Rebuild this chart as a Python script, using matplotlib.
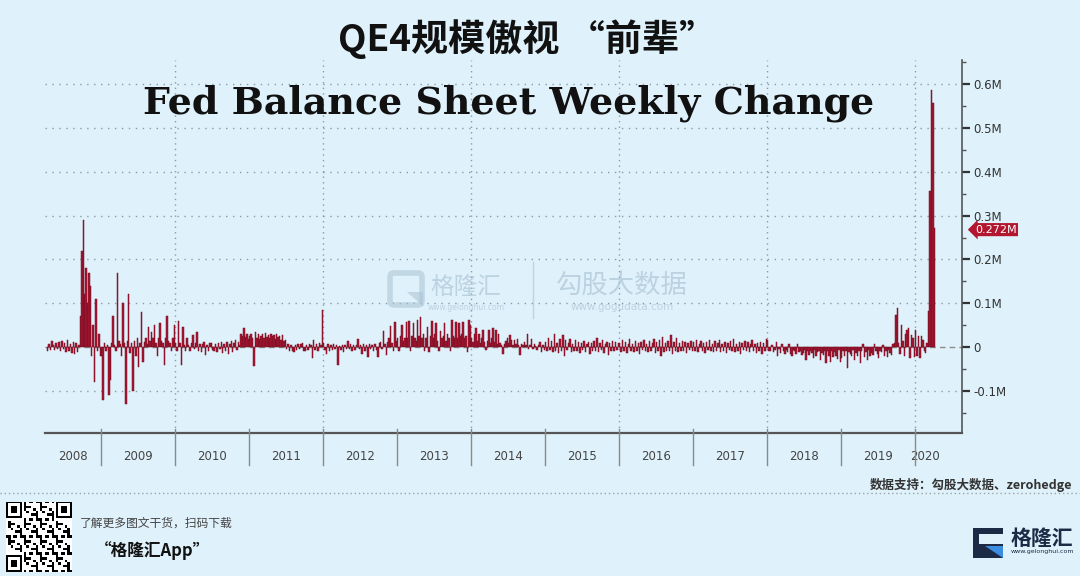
import numpy as np
import matplotlib
matplotlib.use('Agg')
import matplotlib.pyplot as plt
import matplotlib.transforms as mtrans
from matplotlib.patches import Rectangle, Polygon, FancyBboxPatch
from matplotlib.ticker import MultipleLocator, FuncFormatter

# ---------------- data (weekly change, in "M" axis units) ----------------
w2008 = [-0.008, 0.006, -0.006, 0.015, 0.004, -0.006, 0.01, -0.004, 0.012, -0.01, 0.014, -0.004,
         0.01, -0.012, 0.016, -0.01, 0.008, -0.014, 0.012, -0.016, 0.01, -0.012, 0.004,
         0.07, 0.22, 0.29, 0.12, 0.18, 0.10, 0.17, 0.14, -0.02, 0.05, -0.08, 0.11, -0.01, 0.03, -0.02]
w2009 = [-0.02, -0.12, 0.01, -0.01, 0.005, -0.11, -0.075, 0.01, 0.07, 0.005, -0.01, 0.17, 0.015,
         0.008, -0.02, 0.10, 0.01, -0.13, 0.015, 0.12, -0.013, 0.01, -0.10, 0.015, -0.02, 0.02,
         -0.045, 0.01, 0.08, -0.035, 0.012, 0.02, 0.008, 0.045, 0.015, 0.035, 0.02, 0.05, 0.01,
         -0.02, 0.02, 0.055, 0.015, 0.01, -0.04, 0.02, 0.07, 0.015, 0.01, -0.01, 0.02, 0.05]
w2010 = [0.01, -0.01, 0.06, 0.01, -0.04, 0.045, 0.005, -0.01, 0.02, 0.005, -0.008, 0.01, 0.027,
         -0.005, 0.01, 0.035, -0.01, 0.008, -0.012, 0.006, 0.012, -0.017, 0.004, -0.008, 0.01,
         0.01, -0.006, -0.01, 0.008, -0.012, 0.01, -0.005, 0.012, -0.014, 0.006, -0.01, 0.012,
         -0.016, 0.008, 0.014, -0.012, 0.01, 0.016, -0.006, 0.012, 0.005, 0.03, 0.026, 0.043,
         0.022, 0.03, 0.018]
w2011 = [0.025, 0.03, 0.02, -0.044, 0.035, 0.02, 0.03, 0.018, 0.025, 0.03, 0.02, 0.033, 0.022,
         0.028, 0.02, 0.03, 0.025, 0.027, 0.018, 0.03, 0.022, 0.026, 0.017, 0.027, 0.015, 0.016,
         -0.005, 0.006, -0.01, 0.004, -0.008, -0.012, 0.005, -0.006, 0.007, -0.004, 0.008, 0.01,
         -0.008, -0.01, 0.005, -0.006, 0.008, 0.004, -0.024, 0.016, -0.006, 0.006, -0.008, 0.01,
         0.004, 0.085]
w2012 = [0.01, -0.006, -0.016, 0.006, -0.008, 0.004, -0.006, 0.008, -0.005, 0.004, -0.041, 0.003,
         -0.006, 0.005, -0.012, 0.004, -0.005, 0.015, -0.004, 0.006, -0.008, 0.005, -0.006, 0.004,
         0.018, -0.004, 0.005, -0.016, 0.006, -0.008, 0.004, -0.022, 0.006, -0.005, 0.004, -0.008,
         0.008, -0.006, -0.022, 0.01, 0.012, -0.005, 0.037, 0.008, -0.018, 0.012, 0.02, 0.048,
         0.01, -0.008, 0.058, 0.015]
w2013 = [0.02, -0.01, 0.025, 0.05, 0.015, 0.02, 0.058, 0.02, 0.06, -0.008, 0.025, 0.054, 0.02,
         0.015, 0.062, 0.025, 0.068, 0.02, 0.03, -0.01, 0.02, 0.046, -0.012, 0.025, 0.06, 0.02,
         0.03, 0.054, 0.015, -0.008, 0.037, 0.02, 0.025, 0.054, 0.015, 0.03, 0.02, -0.01, 0.062,
         0.025, 0.02, 0.058, 0.02, 0.056, 0.025, 0.03, 0.058, 0.02, 0.025, -0.012, 0.062, 0.05]
w2014 = [0.02, 0.012, 0.03, 0.043, 0.015, 0.031, 0.01, 0.02, 0.039, 0.012, -0.006, 0.015, 0.04,
         0.01, 0.02, 0.043, 0.012, 0.039, 0.008, 0.031, 0.01, 0.005, -0.015, 0.008, 0.015, 0.021,
         0.01, 0.027, 0.016, 0.005, 0.016, 0.006, 0.018, 0.004, -0.018, 0.006, 0.004, 0.012, 0.005,
         0.029, -0.005, 0.004, 0.018, -0.004, 0.007, 0.003, -0.006, 0.005, 0.012, -0.011, 0.004,
         -0.006]
w2015 = [0.012, -0.01, 0.02, -0.006, 0.015, -0.012, 0.03, -0.008, 0.01, -0.014, 0.018, -0.01,
         0.027, -0.02, 0.016, -0.006, 0.01, 0.018, -0.012, 0.008, -0.01, 0.016, -0.008, 0.012,
         -0.014, 0.01, -0.006, 0.015, -0.012, 0.008, 0.012, -0.016, 0.01, -0.008, 0.014, -0.01,
         0.02, -0.012, 0.01, -0.006, 0.016, -0.014, 0.008, 0.012, -0.018, 0.01, -0.008, 0.015,
         -0.01, 0.012, -0.006, 0.01]
w2016 = [0.01, -0.012, 0.016, -0.008, 0.012, -0.014, 0.008, 0.018, -0.01, 0.006, -0.012, 0.014,
         -0.008, 0.01, -0.015, 0.012, -0.006, 0.016, -0.01, 0.008, -0.012, 0.014, -0.008, 0.01,
         0.018, -0.014, 0.012, -0.01, 0.016, -0.02, 0.024, -0.012, 0.01, -0.008, 0.014, -0.01,
         0.028, -0.016, 0.012, -0.008, 0.02, -0.012, 0.01, -0.01, 0.015, -0.008, 0.012, -0.014,
         0.01, -0.006, 0.014, -0.01]
w2017 = [0.012, -0.01, 0.016, -0.012, 0.008, 0.014, -0.01, 0.01, -0.014, 0.012, -0.006, 0.016,
         -0.01, 0.008, -0.012, 0.014, -0.008, 0.01, 0.016, -0.012, 0.008, -0.01, 0.012, -0.014,
         0.01, -0.006, 0.014, -0.01, 0.018, -0.012, 0.008, -0.008, 0.012, -0.016, 0.01, -0.006,
         0.014, -0.01, 0.012, -0.012, 0.008, 0.016, -0.01, 0.006, -0.014, 0.01, -0.008, 0.012,
         -0.016, 0.01, -0.008, 0.018]
w2018 = [0.016, -0.008, -0.01, 0.005, -0.012, -0.006, 0.012, -0.02, -0.004, -0.014, 0.006, -0.01,
         -0.016, -0.006, -0.012, 0.008, -0.015, -0.02, -0.006, -0.01, -0.016, 0.006, -0.012,
         -0.008, -0.018, -0.014, -0.006, -0.03, -0.01, -0.018, -0.008, -0.014, -0.024, -0.006,
         -0.02, -0.012, -0.008, -0.03, -0.014, -0.018, -0.01, -0.037, -0.008, -0.02, -0.034,
         -0.01, -0.022, -0.012, -0.02, -0.028, -0.006, -0.034]
w2019 = [-0.026, -0.01, -0.02, -0.008, -0.047, -0.012, -0.016, -0.02, -0.006, -0.03, -0.014,
         -0.02, -0.01, -0.037, -0.008, 0.008, -0.022, -0.012, -0.03, -0.006, -0.02, -0.014,
         -0.018, 0.006, -0.01, -0.016, -0.024, -0.008, -0.012, 0.004, -0.02, -0.01, -0.022,
         -0.006, -0.014, -0.018, 0.006, 0.01,
         0.073, 0.089, 0.01, -0.015, 0.05, 0.015, -0.02, 0.03, 0.04, 0.043, -0.026, 0.027, 0.02,
         -0.022]
w2020 = [0.04, -0.02, 0.025, -0.026, 0.025, 0.017, -0.01, -0.013, 0.01, 0.083, 0.356, 0.586,
         0.557, 0.272]

years = [2008, 2009, 2010, 2011, 2012, 2013, 2014, 2015, 2016, 2017, 2018, 2019, 2020]
weekly = [w2008, w2009, w2010, w2011, w2012, w2013, w2014, w2015, w2016, w2017, w2018, w2019, w2020]
year_labels = [str(y) for y in years]
ytick_vals = [-0.1, 0, 0.1, 0.2, 0.3, 0.4, 0.5, 0.6]
last_value = 0.272

title_cn = 'QE4规模傲视 “前辈”'
title_en = 'Fed Balance Sheet Weekly Change'
source_txt = '数据支持：勾股大数据、zerohedge'

# ---------------- style ----------------
BG = '#dff1fa'
BAR = '#a8142f'
BAR_EDGE = '#741024'
GRID = '#8b9ba5'
CJK = ['Noto Sans CJK SC', 'DejaVu Sans']

W, H = 1080, 576
fig = plt.figure(figsize=(10.8, 5.76), dpi=100, facecolor=BG)


def fx(px):
    return px / W


def fy(py):
    return 1 - py / H


ax = fig.add_axes([fx(45), fy(433), (962 - 45) / W, (433 - 60) / H])
ax.set_facecolor(BG)

xs, ys = [], []
for yr, vals in zip(years, weekly):
    offset = 52 - len(vals) if yr == years[0] else 0
    for i, v in enumerate(vals):
        xs.append(yr + (offset + i + 0.5) / 52.0)
        ys.append(v)

ax.bar(xs, ys, width=1 / 52.0, color=BAR, edgecolor=BAR_EDGE, linewidth=0.35, zorder=3)

ax.set_xlim(2008.243, 2020.635)
ax.set_ylim(-0.196, 0.655)

# gridlines
for v in ytick_vals:
    if v == 0:
        ax.axhline(0, color='#8c8c8c', lw=1.0, ls=(0, (4, 3)), zorder=2)
    else:
        ax.axhline(v, color=GRID, lw=1.0, ls=(0, (1, 4)), zorder=1)
for yr in years[2::2]:
    ax.axvline(yr, color=GRID, lw=1.0, ls=(0, (1, 3)), zorder=1)

for s in ['left', 'top']:
    ax.spines[s].set_visible(False)
ax.spines['right'].set_color('#555555')
ax.spines['right'].set_linewidth(1.2)
ax.spines['bottom'].set_color('#555555')
ax.spines['bottom'].set_linewidth(1.6)

ax.yaxis.tick_right()
ax.set_yticks(ytick_vals)
ax.yaxis.set_minor_locator(MultipleLocator(0.05))
ax.yaxis.set_major_formatter(FuncFormatter(lambda v, p: '0' if abs(v) < 1e-9 else f'{v:.1f}M'))
ax.tick_params(axis='y', which='major', direction='out', length=6, width=1.6,
               colors='#333333', labelsize=8.5, pad=2)
ax.tick_params(axis='y', which='minor', direction='out', length=3, width=1.0, colors='#555555')
ax.set_xticks([])

# year separators and labels
trans = mtrans.blended_transform_factory(ax.transData, ax.transAxes)
for yr in years[1:]:
    ax.plot([yr, yr], [0.012, -0.085], transform=trans, color='#8a8a8a', lw=1.0,
            clip_on=False, zorder=5)
xmin, xmax = ax.get_xlim()
for yr, lab in zip(years, year_labels):
    if yr == years[0]:
        cx = (xmin + yr + 1) / 2
    elif yr == years[-1]:
        cx = yr + 0.13
    else:
        cx = yr + 0.5
    ax.text(cx, -0.063, lab, transform=trans, ha='center', va='center', fontsize=8.5,
            color='#444444')

# last value tag
ax.text(1.014, last_value - 0.004, f'{last_value:.3f}M',
        transform=mtrans.blended_transform_factory(ax.transAxes, ax.transData),
        ha='left', va='center', color='white', fontsize=8, zorder=6, clip_on=False,
        bbox=dict(boxstyle='larrow,pad=0.14', fc='#b3172f', ec='none'))

# ---------------- overlay (pixel coordinates) ----------------
ov = fig.add_axes([0, 0, 1, 1])
ov.set_xlim(0, W)
ov.set_ylim(H, 0)
ov.axis('off')

t1 = ov.text(527, 39, title_cn, ha='center', va='center', fontsize=27, fontweight='bold',
             family=CJK, color='#111111')
t2 = ov.text(509, 103, title_en, ha='center', va='center', fontsize=30, fontweight='bold',
             family=['DejaVu Serif'], color='#111111')

# watermark
WM = '#a9c2d3'
ov.add_patch(FancyBboxPatch((391, 274), 30, 30, boxstyle='round,pad=1,rounding_size=4',
                            fc='none', ec=WM, lw=4, alpha=0.55, zorder=4))
ov.add_patch(Polygon([[407, 292], [423, 292], [423, 306]], closed=True, fc=WM, ec='none',
                     alpha=0.55, zorder=4))
ov.text(466, 287, '格隆汇', ha='center', va='center', fontsize=17, family=CJK, color=WM,
        alpha=0.65, zorder=4)
ov.text(466, 308, 'www.gelonghui.com', ha='center', va='center', fontsize=5.5, color=WM,
        alpha=0.65, zorder=4)
ov.plot([533, 533], [262, 318], color=WM, lw=1, alpha=0.6, zorder=4)
ov.text(622, 285, '勾股大数据', ha='center', va='center', fontsize=19, family=CJK, color=WM,
        alpha=0.65, zorder=4)
ov.text(622, 307, 'www.gogudata.com', ha='center', va='center', fontsize=7.5, color=WM,
        alpha=0.65, zorder=4)

# source
ov.text(1072, 485, source_txt, ha='right', va='center', fontsize=9, fontweight='bold',
        family=CJK, color='#333333')

# footer dotted line
ov.plot([0, W], [493, 493], color='#9aa4aa', lw=1.0, ls=(0, (1, 2)))

# QR code (decorative)
n = 29
qr = np.zeros((n, n))
for i in range(n):
    for j in range(n):
        qr[i, j] = 1 if ((i * i * 3 + j * 7 + i * j * 5 + j * j) % 7) < 3 else 0


def finder(r, c):
    qr[max(r - 1, 0):r + 8, max(c - 1, 0):c + 8] = 0
    qr[r:r + 7, c:c + 7] = 1
    qr[r + 1:r + 6, c + 1:c + 6] = 0
    qr[r + 2:r + 5, c + 2:c + 5] = 1


finder(0, 0)
finder(0, n - 7)
finder(n - 7, 0)
qax = fig.add_axes([fx(6), fy(572), 66 / W, 70 / H])
qax.imshow(qr, cmap='gray_r', interpolation='nearest', aspect='auto')
qax.axis('off')
ov.add_patch(FancyBboxPatch((31, 528), 17, 17, boxstyle='round,pad=1,rounding_size=3',
                            fc='#1f86e0', ec='white', lw=1.5, zorder=6))
ov.text(39.5, 536.5, 'G', ha='center', va='center', fontsize=9, fontweight='bold',
        color='white', zorder=7)

ov.text(80, 523, '了解更多图文干货，扫码下载', ha='left', va='center', fontsize=8.5,
        family=CJK, color='#444444')
ov.text(95, 551, '“格隆汇App”', ha='left', va='center', fontsize=12, fontweight='bold',
        family=CJK, color='#111111')

# bottom-right logo
NAVY = '#1c2a45'
ov.add_patch(Rectangle((973, 528), 30, 30, fc=NAVY, ec='none'))
ov.add_patch(Rectangle((979, 534), 24, 10, fc=BG, ec='none'))
ov.add_patch(Polygon([[985, 546], [1003, 546], [1003, 558]], closed=True, fc='#3b8de0',
                     ec='none'))
ov.text(1042, 538, '格隆汇', ha='center', va='center', fontsize=15, fontweight='bold',
        family=CJK, color=NAVY)
ov.text(1042, 551, 'www.gelonghui.com', ha='center', va='center', fontsize=4.5, color=NAVY)

# fit title widths to reference
fig.canvas.draw()
r = fig.canvas.get_renderer()
for t, target in [(t1, 378), (t2, 732)]:
    bb = t.get_window_extent(r)
    t.set_fontsize(t.get_fontsize() * target / bb.width)

fig.savefig('out.png', dpi=100, facecolor=BG)
